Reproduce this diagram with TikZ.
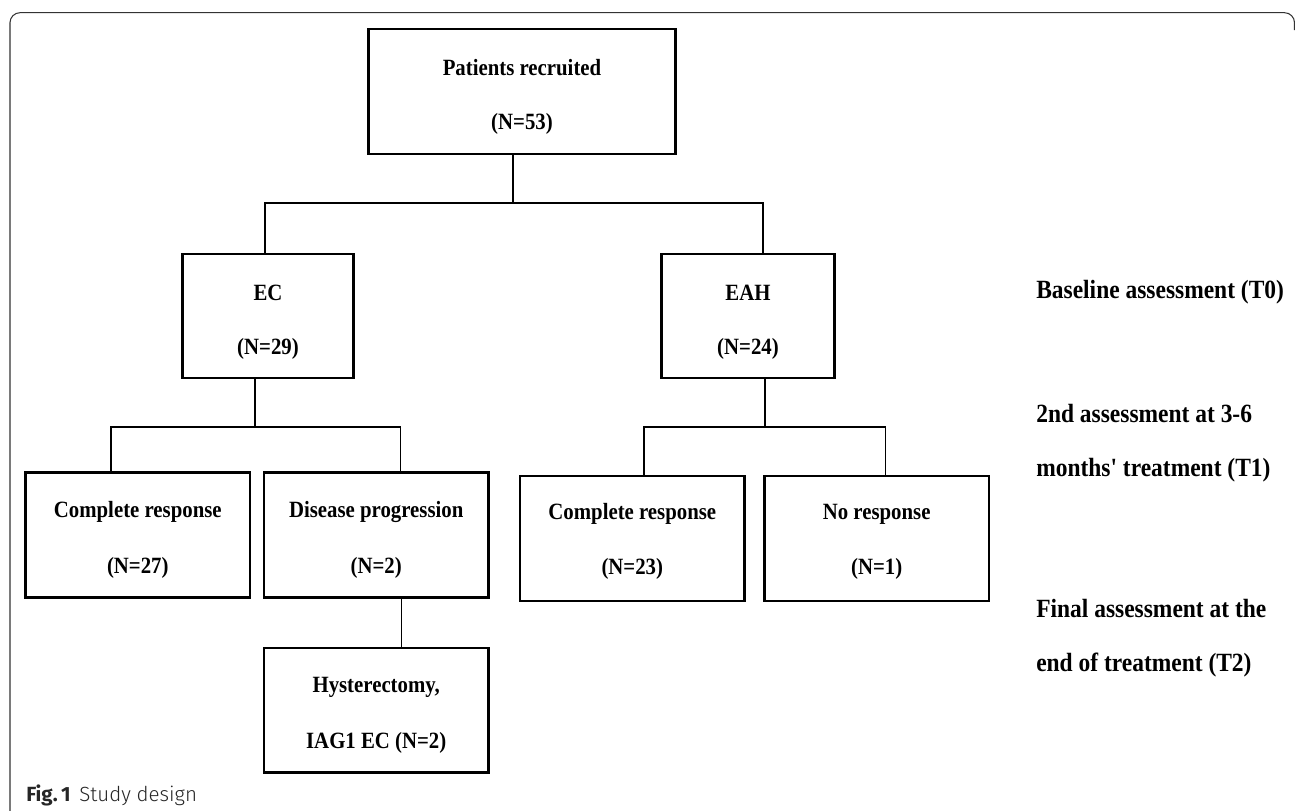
\documentclass[tikz,border=0pt]{standalone}
\usepackage{fontspec}
\setmainfont{Liberation Serif}
\newfontfamily\capfont{Fira Sans}
\newfontfamily\caplight{Fira Sans Light}
\usetikzlibrary{calc}
\newcommand\vt[1]{\scalebox{1}[1.12]{#1}}
\begin{document}
\begin{tikzpicture}[x=0.75pt,y=-0.75pt,
  box/.style={draw, line width=1.9pt, inner sep=0pt, outer sep=0pt},
  boxtxt/.style={font=\fontsize{15.6}{18}\selectfont\bfseries, inner sep=0pt},
  lbl/.style={font=\fontsize{17.6}{20}\selectfont\bfseries, anchor=west, inner sep=0pt},
  conn/.style={line width=1.1pt},
  frame/.style={line width=0.8pt, draw=black!80, rounded corners=7.5pt}]
\useasboundingbox (0,0) rectangle (1295,810);
% frame
\draw[frame] (10,812) -- (10,12.7) -- (1294.5,12.7) -- (1294.5,30);
% boxes
\node[box, minimum width=307*0.75pt, minimum height=125*0.75pt] (pat) at (522,91.5) {};
\node[box, minimum width=171*0.75pt, minimum height=124*0.75pt] (ec) at (268,316) {};
\node[box, minimum width=173*0.75pt, minimum height=124*0.75pt] (eah) at (748,316) {};
\node[box, minimum width=224.3*0.75pt, minimum height=125*0.75pt] (cr1) at (137.8,535.2) {};
\node[box, minimum width=224.3*0.75pt, minimum height=125*0.75pt] (dp) at (376.2,535.2) {};
\node[box, minimum width=224.3*0.75pt, minimum height=124.7*0.75pt] (hy) at (376.2,710.3) {};
\node[box, minimum width=224.6*0.75pt, minimum height=125*0.75pt] (cr2) at (632.3,538.5) {};
\node[box, minimum width=224.5*0.75pt, minimum height=125*0.75pt] (nr) at (876.7,538.5) {};
% box texts
\node[boxtxt] (patA) at (522,68) {\vt{Patients recruited}};
\node[boxtxt] (patB) at (522,124) {\vt{(N=53)}};
\node[boxtxt] (ecA) at (268,293) {\vt{EC}};
\node[boxtxt] (ecB) at (268,349) {\vt{(N=29)}};
\node[boxtxt] (eahA) at (748,293) {\vt{EAH}};
\node[boxtxt] (eahB) at (748,349) {\vt{(N=24)}};
\node[boxtxt] (cr1A) at (137.8,512) {\vt{Complete response}};
\node[boxtxt] (cr1B) at (137.8,567.5) {\vt{(N=27)}};
\node[boxtxt] (dpA) at (376.2,512) {\vt{Disease progression}};
\node[boxtxt] (dpB) at (376.2,567.5) {\vt{(N=2)}};
\node[boxtxt] (hyA) at (376.2,687) {\vt{Hysterectomy,}};
\node[boxtxt] (hyB) at (376.2,742.5) {\vt{IAG1 EC (N=2)}};
\node[boxtxt] (cr2A) at (632.3,514) {\vt{Complete response}};
\node[boxtxt] (cr2B) at (632.3,569) {\vt{(N=23)}};
\node[boxtxt] (nrA) at (876.7,514) {\vt{No response}};
\node[boxtxt] (nrB) at (876.7,569) {\vt{(N=1)}};
% connectors
\coordinate (j0) at (513,203);
\draw[conn] ($(pat.south)+(-9,0)$) -- (j0);
\draw[conn] ($(ec.north)+(-3,0)$) |- (j0) -| ($(eah.north)+(15,0)$);
\coordinate (j1) at (255,427);
\draw[conn] ($(ec.south)+(-13,0)$) -- (j1);
\draw[conn] ($(cr1.north)+(-27,0)$) |- (j1) -| ($(dp.north)+(24.2,0)$);
\draw[conn] ($(dp.south)+(25.5,0)$) -- ($(hy.north)+(25.5,0)$);
\coordinate (j2) at (765,427);
\draw[conn] ($(eah.south)+(17,0)$) -- (j2);
\draw[conn] ($(cr2.north)+(11.7,0)$) |- (j2) -| ($(nr.north)+(9,0)$);
% right-hand labels
\node[lbl] (t0) at (1036,292.5) {\vt{Baseline assessment (T0)}};
\node[lbl] (t1a) at (1036,414) {\vt{2nd assessment at 3-6}};
\node[lbl] (t1b) at (1036,470) {\vt{months\textquotesingle\ treatment (T1)}};
\node[lbl] (t2a) at (1036,609) {\vt{Final assessment at the}};
\node[lbl] (t2b) at (1036,665.5) {\vt{end of treatment (T2)}};
% caption
\node[anchor=west, inner sep=0pt, font=\fontsize{15.4}{18}\selectfont, text=black!85] (cap) at (26,795) {{\capfont\bfseries Fig.\,1}\hspace{6.5pt}{\caplight Study design}};
\end{tikzpicture}
\end{document}
